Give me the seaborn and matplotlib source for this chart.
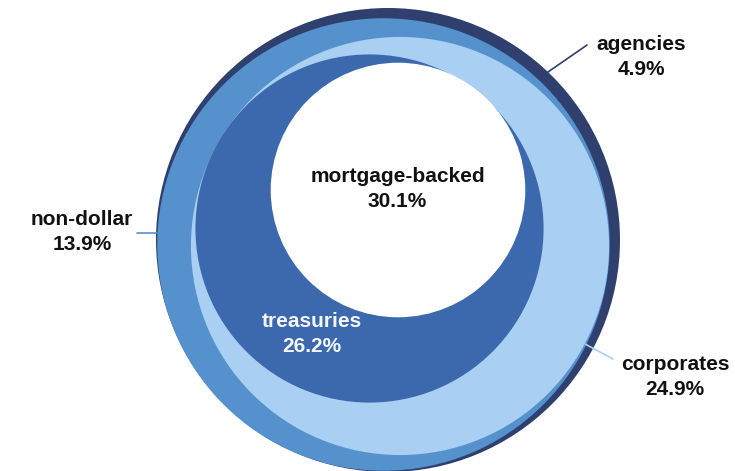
import numpy as np
import matplotlib
matplotlib.use("Agg")
import matplotlib.pyplot as plt
from matplotlib.patches import Circle
import seaborn as sns

# Portfolio composition (percent of total), innermost first
categories = ["mortgage-backed", "treasuries", "corporates", "non-dollar", "agencies"]
shares = [30.1, 26.2, 24.9, 13.9, 4.9]
share_labels = ["30.1%", "26.2%", "24.9%", "13.9%", "4.9%"]

# Layout (pixel coordinates, y downward)
outer_radius = 232.0
centers = [(398, 190), (369.5, 228.5), (400, 246), (383.5, 244.5), (388, 240)]
label_pos = [(397.5, 189), (312, 334), (675, 377), (82, 232), (641, 57)]
label_colors = ["#111111", "#f4f7fc", "#111111", "#111111", "#111111"]
leaders = [None, None, ((585, 344), (613, 359)), ((137, 233), (157, 233)), ((548, 72), (587, 45))]

sns.set_theme(style="white")
plt.rcParams["font.family"] = ["Liberation Sans", "DejaVu Sans"]

palette = sns.color_palette(["#ffffff", "#3c68ad", "#a9d0f2", "#5591cc", "#2f3f6e"])

fig = plt.figure(figsize=(7.35, 4.71), dpi=100)
ax = fig.add_axes([0, 0, 1, 1])
ax.set_xlim(0, 735)
ax.set_ylim(471, 0)
ax.set_aspect("equal")
ax.axis("off")

# Each circle's area is proportional to the cumulative share it encloses
cumulative = np.cumsum(shares)
radii = outer_radius * np.sqrt(cumulative / cumulative[-1])

for i in range(len(categories) - 1, -1, -1):
    ax.add_patch(Circle(centers[i], radii[i], facecolor=palette[i],
                        edgecolor="none", zorder=len(categories) - i))

for i, cat in enumerate(categories):
    x, y = label_pos[i]
    ax.text(x, y, f"{cat}\n{share_labels[i]}", ha="center", va="center",
            fontsize=15, fontweight="bold", color=label_colors[i],
            linespacing=1.35, zorder=20)
    if leaders[i] is not None:
        (x0, y0), (x1, y1) = leaders[i]
        ax.plot([x0, x1], [y0, y1], color=palette[i], lw=1.2, zorder=19)

fig.savefig("out.png", dpi=100)
